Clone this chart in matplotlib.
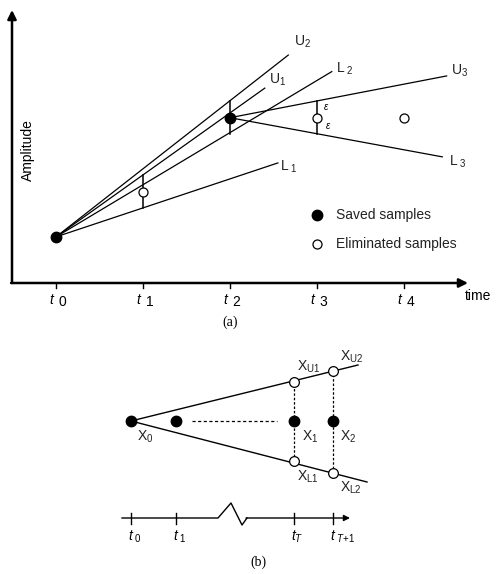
import matplotlib
matplotlib.use("Agg")
import matplotlib.pyplot as plt

plt.rcParams['font.family'] = ['Liberation Sans', 'DejaVu Sans']
plt.rcParams['mathtext.fontset'] = 'custom'
plt.rcParams['mathtext.rm'] = 'Liberation Sans'
plt.rcParams['mathtext.it'] = 'Liberation Sans:italic'

# ---- panel (a) data: time in sample steps, amplitude in arbitrary units
sample_t = [0, 1, 2, 3, 4]
sample_a = [0.53, 1.05, 1.90, 1.90, 1.90]
sample_saved = [True, False, True, False, False]
eps = 0.19
bar_t = [1, 2, 3]
bar_mid = [1.05, 1.90, 1.90]

# door lines: name, start (t, a), end (t, a), label position
line_names = ['U1', 'L1', 'U2', 'L2', 'U3', 'L3']
line_start_t = [0, 0, 0, 0, 2, 2]
line_start_a = [0.53, 0.53, 0.53, 0.53, 1.90, 1.90]
line_end_t = [2.40, 2.55, 2.67, 3.17, 4.49, 4.44]
line_end_a = [2.24, 1.38, 2.62, 2.43, 2.38, 1.45]
line_labels = [r'$\mathregular{U_1}$', r'$\mathregular{L_{\ 1}}$', r'$\mathregular{U_2}$',
               r'$\mathregular{L_{\ 2}}$', r'$\mathregular{U_3}$', r'$\mathregular{L_{\ 3}}$']
label_t = [2.55, 2.68, 2.83, 3.32, 4.64, 4.62]
label_a = [2.34, 1.33, 2.77, 2.46, 2.44, 1.39]

time_ticks = [0, 1, 2, 3, 4]
time_labels = ['0', '1', '2', '3', '4']

# ---- panel (b) data
b_tick_x = [0, 4.5, 16.3, 20.2]
b_tick_labels = [r'$t_{\ \mathregular{0}}$', r'$t_{\ \mathregular{1}}$', r'$t_{T}$', r'$t_{\ T\mathregular{+1}}$']
b_x0 = (0, 0)
b_mid_x = [4.5, 16.3, 20.2]
b_upper_end = (22.7, 5.6)
b_lower_end = (23.6, -6.1)
b_upper_x = [16.3, 20.2]
b_upper_y = [3.9, 5.0]
b_lower_x = [16.3, 20.2]
b_lower_y = [-4.0, -5.2]

W, H = 502, 574
fig = plt.figure(figsize=(W / 100, H / 100), dpi=100)

# ======== panel (a) ========
TOP_A = 340
axa = fig.add_axes([0, 1 - TOP_A / H, 1, TOP_A / H])
axa.axis('off')
X0PX, BASEPX, U = 56, 283, 87
axa.set_xlim((0 - X0PX) / U, (W - X0PX) / U)
axa.set_ylim((BASEPX - TOP_A) / U, BASEPX / U)

t_left = (12 - X0PX) / U
arrow = dict(arrowstyle='-|>', lw=1.8, color='black', mutation_scale=13, shrinkA=0, shrinkB=0)
axa.annotate('', xy=(t_left, (BASEPX - 10) / U), xytext=(t_left, 0), arrowprops=arrow)
axa.annotate('', xy=((468 - X0PX) / U, 0), xytext=(t_left - 0.01, 0), arrowprops=arrow)

for t, lab in zip(time_ticks, time_labels):
    axa.plot([t, t], [0, -0.06], color='black', lw=1)
    axa.text(t - 0.03, -0.19, 't', style='italic', fontsize=10, ha='right', va='center')
    axa.text(t + 0.03, -0.22, lab, fontsize=10, ha='left', va='center')
axa.text((478 - X0PX) / U, -0.15, 'time', fontsize=10, ha='center', va='center')
axa.text((28 - X0PX) / U, 1.53, 'Amplitude', fontsize=10, rotation=90, ha='center', va='center')

for n, ts, as_, te, ae, lab, lt, la in zip(line_names, line_start_t, line_start_a, line_end_t,
                                          line_end_a, line_labels, label_t, label_a):
    axa.plot([ts, te], [as_, ae], color='black', lw=0.9)
    axa.text(lt, la, lab, fontsize=10, ha='center', va='center', color='#222222')

for t, m in zip(bar_t, bar_mid):
    axa.plot([t, t], [m - eps, m + eps], color='black', lw=1.1)

for t, a, s in zip(sample_t, sample_a, sample_saved):
    if s:
        axa.plot(t, a, 'o', color='black', ms=7.5, zorder=5)
    else:
        axa.plot(t, a, 'o', mfc='white', mec='black', mew=0.9, ms=6.5, zorder=5)

axa.text(3.11, 2.02, r'$\varepsilon$', fontsize=7, ha='center', va='center')
axa.text(3.13, 1.80, r'$\varepsilon$', fontsize=7, ha='center', va='center')

# legend
axa.plot(3, (BASEPX - 215) / U, 'o', color='black', ms=7.5)
axa.plot(3, (BASEPX - 244) / U, 'o', mfc='white', mec='black', mew=0.9, ms=6.5)
axa.text((336 - X0PX) / U, (BASEPX - 215) / U, 'Saved samples', fontsize=10, va='center', color='#222222')
axa.text((336 - X0PX) / U, (BASEPX - 244) / U, 'Eliminated samples', fontsize=10, va='center', color='#222222')

fig.text(230 / W, 1 - 322 / H, '(a)', family='Liberation Serif', fontsize=10, ha='center', va='center')

# ======== panel (b) ========
axb = fig.add_axes([0, 0, 1, 1 - TOP_A / H])
axb.axis('off')
BX, BY, BU = 131, 421, 10
axb.set_xlim((0 - BX) / BU, (W - BX) / BU)
axb.set_ylim((BY - H) / BU, (BY - TOP_A) / BU)

axb.plot([b_x0[0], b_upper_end[0]], [b_x0[1], b_upper_end[1]], color='black', lw=1)
axb.plot([b_x0[0], b_lower_end[0]], [b_x0[1], b_lower_end[1]], color='black', lw=1)
axb.plot([6.1, 14.6], [0, 0], color='black', lw=0.9, ls=(0, (2.5, 2)))
for x, yu, yl in zip(b_upper_x, b_upper_y, b_lower_y):
    axb.plot([x, x], [yl, yu], color='black', lw=0.9, ls=(0, (2, 1.5)))

axb.plot(b_x0[0], b_x0[1], 'o', color='black', ms=7.5, zorder=5)
for x in b_mid_x:
    axb.plot(x, 0, 'o', color='black', ms=7.5, zorder=5)
for x, y in zip(b_upper_x + b_lower_x, b_upper_y + b_lower_y):
    axb.plot(x, y, 'o', mfc='white', mec='black', mew=0.9, ms=7, zorder=5)

blab = dict(fontsize=10, ha='left', va='center', color='#222222')
axb.text(0.6, -1.6, r'$\mathregular{X_0}$', **blab)
axb.text(17.1, -1.6, r'$\mathregular{X_1}$', **blab)
axb.text(20.9, -1.6, r'$\mathregular{X_2}$', **blab)
axb.text(16.6, 5.4, r'$\mathregular{X_{U1}}$', **blab)
axb.text(20.9, 6.4, r'$\mathregular{X_{U2}}$', **blab)
axb.text(16.6, -5.6, r'$\mathregular{X_{L1}}$', **blab)
axb.text(20.9, -6.7, r'$\mathregular{X_{L2}}$', **blab)

# time axis with break
ya = -9.7
axb.plot([-0.9, 8.7, 10.0, 11.1, 11.6], [ya, ya, -8.2, -10.4, ya], color='black', lw=1)
axb.annotate('', xy=(21.9, ya), xytext=(11.5, ya),
             arrowprops=dict(arrowstyle='-|>', lw=1, color='black', mutation_scale=9, shrinkA=0, shrinkB=0))
for x, lab in zip(b_tick_x, b_tick_labels):
    axb.plot([x, x], [ya + 0.5, ya - 0.6], color='black', lw=1)
    axb.text(x - 0.3, -11.6, lab, fontsize=10, ha='left', va='center')

fig.text(258 / W, 1 - 562 / H, '(b)', family='Liberation Serif', fontsize=10, ha='center', va='center')

fig.savefig('out.png', dpi=100)
